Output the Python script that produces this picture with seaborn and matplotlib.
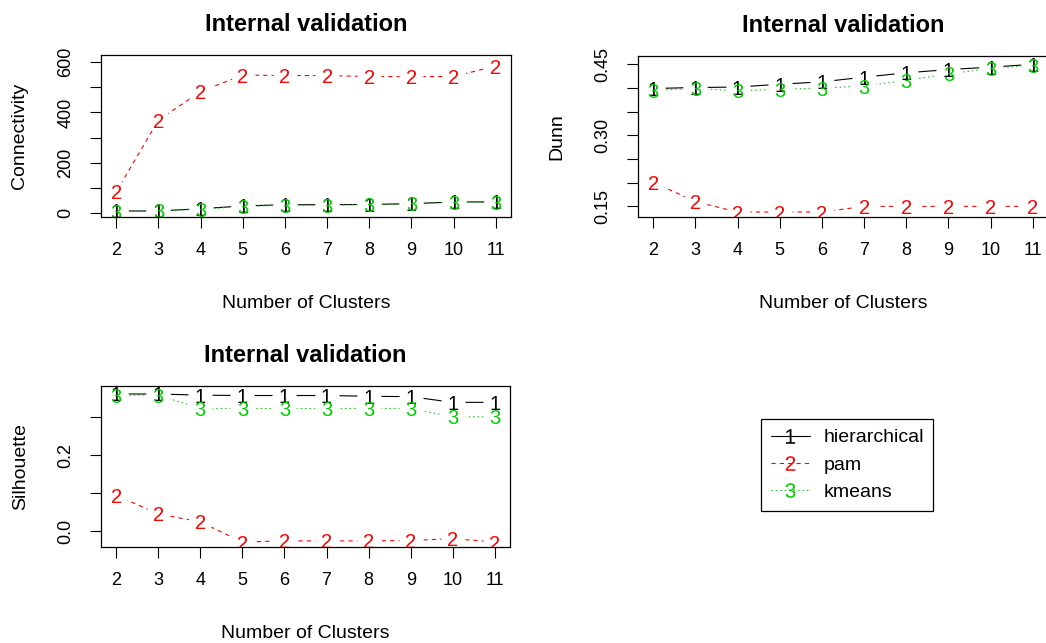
import numpy as np
import pandas as pd
import matplotlib
matplotlib.use("Agg")
import matplotlib.pyplot as plt
import seaborn as sns
from matplotlib.lines import Line2D

# ---------------- data ----------------
clusters = [2, 3, 4, 5, 6, 7, 8, 9, 10, 11]
methods = ["hierarchical", "pam", "kmeans"]

conn_hier = [7, 7, 16, 27, 32, 32, 33, 36, 43, 43]
conn_pam = [83, 369, 483, 549, 547, 547, 543, 543, 543, 585]
conn_kmeans = [5, 7, 14, 25, 30, 30, 33, 35, 42, 42]

dunn_hier = [0.399, 0.401, 0.402, 0.408, 0.413, 0.423, 0.432, 0.439, 0.444, 0.450]
dunn_pam = [0.201, 0.160, 0.138, 0.138, 0.138, 0.150, 0.150, 0.150, 0.150, 0.150]
dunn_kmeans = [0.395, 0.399, 0.394, 0.397, 0.400, 0.404, 0.416, 0.430, 0.441, 0.448]

sil_hier = [0.361, 0.361, 0.358, 0.357, 0.357, 0.357, 0.355, 0.354, 0.339, 0.339]
sil_pam = [0.095, 0.046, 0.025, -0.028, -0.025, -0.025, -0.025, -0.024, -0.019, -0.028]
sil_kmeans = [0.358, 0.358, 0.323, 0.323, 0.323, 0.323, 0.323, 0.323, 0.301, 0.301]

conn_ticks = [0, 100, 200, 300, 400, 500, 600]
conn_labels = ["0", "", "200", "", "400", "", "600"]
dunn_ticks = [0.15, 0.20, 0.25, 0.30, 0.35, 0.40, 0.45]
dunn_labels = ["0.15", "", "", "0.30", "", "", "0.45"]
sil_ticks = [0.0, 0.1, 0.2, 0.3]
sil_labels = ["0.0", "", "0.2", ""]

# ---------------- style ----------------
sns.set_theme(style="ticks")
plt.rcParams["font.family"] = ["Liberation Sans", "DejaVu Sans"]
plt.rcParams["mathtext.fontset"] = "custom"
plt.rcParams["mathtext.rm"] = "Liberation Sans"
plt.rcParams["mathtext.default"] = "regular"
plt.rcParams["lines.scale_dashes"] = False
for key in ["text.color", "axes.labelcolor", "xtick.color", "ytick.color",
            "xtick.labelcolor", "ytick.labelcolor", "axes.edgecolor", "legend.labelcolor"]:
    plt.rcParams[key] = "black"

colors = ["#000000", "#FF0000", "#00CD00"]
linestyles = ["-", (0, (3.0, 3.0)), (0, (1.0, 2.2))]
symbols = ["1", "2", "3"]

W, H = 1046, 643
fig = plt.figure(figsize=(W / 100, H / 100), dpi=100)
fig.patch.set_facecolor("white")


def px_axes(left, top, right, bottom):
    return fig.add_axes([left / W, 1 - bottom / H, (right - left) / W, (bottom - top) / H])


ax1 = px_axes(101, 55, 511, 217)
ax2 = px_axes(638, 56, 1048, 217)
ax3 = px_axes(101, 386, 510, 547)

panels = [
    (ax1, [conn_hier, conn_pam, conn_kmeans], "Connectivity", conn_ticks, conn_labels, (-17, 629), 162),
    (ax2, [dunn_hier, dunn_pam, dunn_kmeans], "Dunn", dunn_ticks, dunn_labels, (0.1275, 0.4676), 161),
    (ax3, [sil_hier, sil_pam, sil_kmeans], "Silhouette", sil_ticks, sil_labels, (-0.041, 0.382), 161),
]

for ax, series, ylab, yt, ytl, ylim, hpx in panels:
    ax.set_facecolor("white")
    # lines
    for vals, col, ls in zip(series, colors, linestyles):
        sns.lineplot(x=clusters, y=vals, color=col, linestyle=ls, linewidth=0.8,
                     ax=ax, zorder=2, sort=False)
    # gaps around points (R type = "b")
    for vals in series:
        sns.scatterplot(x=clusters, y=vals, color="white", s=300, linewidth=0,
                        ax=ax, zorder=3, legend=False)
    # digit symbols
    for vals, col, sym in zip(series, colors, symbols):
        for xv, yv in zip(clusters, vals):
            ax.text(xv, yv, sym, color=col, fontsize=14.5, ha="center",
                    va="center_baseline", zorder=4, clip_on=True)

    ax.set_xlim(1.64, 11.36)
    ax.set_ylim(*ylim)
    ax.set_xticks(clusters)
    ax.set_xticklabels([str(c) for c in clusters])
    ax.set_yticks(yt)
    ax.set_yticklabels(ytl)
    plt.setp(ax.get_yticklabels(), rotation=90, va="center")
    ax.tick_params(axis="both", length=8, width=0.8, color="black",
                   labelsize=13, labelcolor="black", direction="out")
    ax.tick_params(axis="x", pad=10)
    ax.tick_params(axis="y", pad=11)
    for sp in ax.spines.values():
        sp.set_visible(True)
        sp.set_color("black")
        sp.set_linewidth(0.9)
        sp.set_zorder(5)

    ax.set_title("Internal validation", fontsize=17, fontweight="bold",
                 color="black", y=1 + 33 / hpx, va="center_baseline", pad=0)
    ax.set_xlabel("Number of Clusters", fontsize=14, color="black")
    ax.xaxis.label.set_va("center_baseline")
    ax.xaxis.set_label_coords(0.5, -(302 - 217) / hpx)
    ax.set_ylabel(ylab, fontsize=14, color="black")
    ax.yaxis.label.set_va("center_baseline")
    ax.yaxis.set_label_coords(-83 / 410, 0.5)

handles = [
    Line2D([], [], color=c, linestyle=ls, linewidth=0.8, marker=f"${s}$",
           markersize=10.5, markeredgewidth=0, markerfacecolor=c)
    for c, ls, s in zip(colors, linestyles, symbols)
]
leg = fig.legend(handles, methods, loc="upper left",
                 bbox_to_anchor=(761 / W, 1 - 419 / H), borderaxespad=0,
                 frameon=True, fancybox=False, edgecolor="black", framealpha=1,
                 fontsize=14, handlelength=2.0, handletextpad=0.7,
                 borderpad=0.5, labelspacing=0.5, numpoints=1)
leg.get_frame().set_linewidth(0.9)
for t in leg.get_texts():
    t.set_color("black")

fig.savefig("out.png", dpi=100, facecolor="white")
